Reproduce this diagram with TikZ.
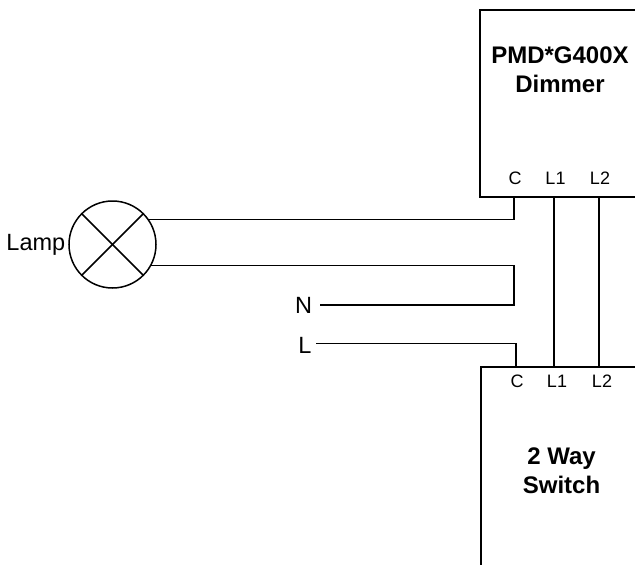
\documentclass[tikz,border=0pt]{standalone}
\usepackage{fontspec}
\setmainfont{Liberation Sans}
\usetikzlibrary{positioning}
\newcommand{\bigsize}{\fontsize{23.5}{29}\selectfont}
\newcommand{\titlesize}{\fontsize{24}{29}\selectfont}
\newcommand{\smallsize}{\fontsize{18}{22}\selectfont}

\begin{document}
\begin{tikzpicture}[x=1pt,y=-1pt,line width=1.5pt]
	\tikzstyle{title}=[align=center,inner sep=0pt,font=\titlesize\bfseries]
	\tikzstyle{label}=[inner sep=0pt,font=\bigsize]
	\tikzstyle{pin}=[inner sep=0pt,font=\smallsize]
	\useasboundingbox (0,0) rectangle (635,565);
		% dimmer
		\coordinate (dtop) at (635,10);
		\coordinate (dtl) at (480,10);
		\coordinate (dbl) at (480,197);
		\coordinate (dbot) at (635,197);
		\draw (dtop) -- (dtl) -- (dbl) -- (dbot);
		\node[title] (dimmer) at (560,70) {PMD*G400X\\Dimmer};
		\node[pin] (dc) at (515,178) {C};
		\node[pin] (dl1) at (555.5,178) {L1};
		\node[pin] (dl2) at (600,178) {L2};
		% switch
		\coordinate (stop) at (635,367);
		\coordinate (stl) at (481,367);
		\coordinate (sbot) at (481,565);
		\draw (stop) -- (stl) -- (sbot);
		\node[title] (switch) at (561.5,470.5) {2 Way\\Switch};
		\node[pin] (sc) at (517,381) {C};
		\node[pin] (sl1) at (557,381) {L1};
		\node[pin] (sl2) at (602,381) {L2};
		% lamp
		\node[circle,draw,minimum size=87pt,inner sep=0pt,outer sep=0pt] (lamp) at (112.5,244.5) {};
		\node[label, left=3pt of lamp] (lamplabel) {Lamp};
			\draw (lamp.45) -- (lamp.225);
			\draw (lamp.135) -- (lamp.315);
		% supply
		\node[label] (n) at (303.5,305) {N};
		\node[label] (l) at (305,345) {L};
		\coordinate (nend) at (320,305);
		\coordinate (lend) at (316,343.5);
		\coordinate (dcp) at (514,197);
		\coordinate (dl1p) at (554,197);
		\coordinate (dl2p) at (599,197);
		\coordinate (scp) at (516,367);
		\coordinate (sl1p) at (554,367);
		\coordinate (sl2p) at (599,367);
		\coordinate (nturn) at (514,305);
			\draw (lamp.35) -- (lamp.35-|dcp) -- (dcp);
			\draw (lamp.-29) -- (lamp.-29-|nturn) -- (nturn) -- (nend);
			\draw (lend) -- (lend-|scp) -- (scp);
			\draw (dl1p) -- (sl1p);
			\draw (dl2p) -- (sl2p);
\end{tikzpicture}
\end{document}
